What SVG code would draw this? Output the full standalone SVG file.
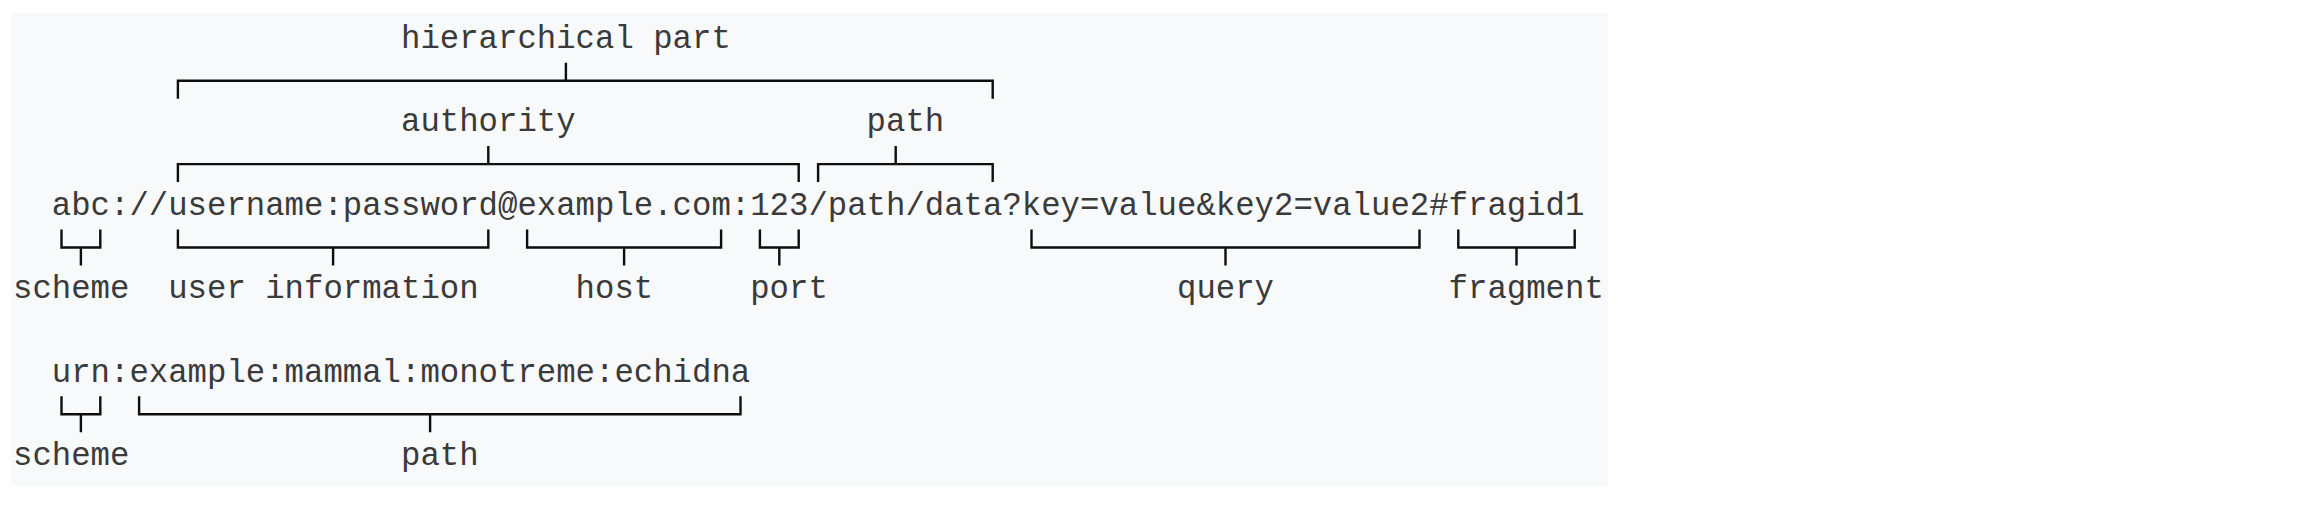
<svg xmlns="http://www.w3.org/2000/svg" width="2322" height="514" viewBox="0 0 2322 514">
  <style>
    .t { font-family: "Liberation Mono", "DejaVu Sans Mono", monospace; font-size: 32.33px; fill: #3a3a3a; white-space: pre; }
    .br { fill: none; stroke: #0d0d0d; stroke-width: 2.4; stroke-linecap: butt; stroke-linejoin: miter; }
  </style>
  <rect x="0" y="0" width="2322" height="514" fill="#ffffff"/>
  <rect id="panel" x="11" y="13" width="1597" height="473" fill="#f8f9fa"/>

  <g id="label-hierarchical-part"><text class="t" x="401" y="48">hierarchical part</text></g>
  <g id="label-authority"><text class="t" x="401" y="131.4">authority</text></g>
  <g id="label-path-1"><text class="t" x="866.6" y="131.4">path</text></g>
  <g id="uri-1"><text class="t" x="51.8" y="214.8">abc://username:password@example.com:123/path/data?key=value&amp;key2=value2#fragid1</text></g>
  <g id="label-scheme-1"><text class="t" x="13" y="298.2">scheme</text></g>
  <g id="label-user-information"><text class="t" x="168.2" y="298.2">user information</text></g>
  <g id="label-host"><text class="t" x="575.6" y="298.2">host</text></g>
  <g id="label-port"><text class="t" x="750.2" y="298.2">port</text></g>
  <g id="label-query"><text class="t" x="1177" y="298.2">query</text></g>
  <g id="label-fragment"><text class="t" x="1448.6" y="298.2">fragment</text></g>
  <g id="uri-2"><text class="t" x="51.8" y="381.6">urn:example:mammal:monotreme:echidna</text></g>
  <g id="label-scheme-2"><text class="t" x="13" y="465">scheme</text></g>
  <g id="label-path-2"><text class="t" x="401" y="465">path</text></g>

  <g id="connectors">
    <!-- hierarchical part: cols 8..50, stem 28 -->
    <path class="br" d="M177.9 98.7 V80.7 H992.7 V98.7 M565.9 80.7 V62.7"/>
    <!-- authority: cols 8..40, stem 24 -->
    <path class="br" d="M177.9 182.1 V164.1 H798.7 V182.1 M488.3 164.1 V146.1"/>
    <!-- path: cols 41..50, stem 45 -->
    <path class="br" d="M818.1 182.1 V164.1 H992.7 V182.1 M895.7 164.1 V146.1"/>
    <!-- scheme: cols 2..4, stem 3 -->
    <path class="br" d="M61.5 229.5 V247.5 H100.3 V229.5 M80.9 247.5 V265.5"/>
    <!-- user information: cols 8..24, stem 16 -->
    <path class="br" d="M177.9 229.5 V247.5 H488.3 V229.5 M333.1 247.5 V265.5"/>
    <!-- host: cols 26..36, stem 31 -->
    <path class="br" d="M527.1 229.5 V247.5 H721.1 V229.5 M624.1 247.5 V265.5"/>
    <!-- port: cols 38..40, stem 39 -->
    <path class="br" d="M759.9 229.5 V247.5 H798.7 V229.5 M779.3 247.5 V265.5"/>
    <!-- query: cols 52..72, stem 62 -->
    <path class="br" d="M1031.5 229.5 V247.5 H1419.5 V229.5 M1225.5 247.5 V265.5"/>
    <!-- fragment: cols 74..80, stem 77 -->
    <path class="br" d="M1458.3 229.5 V247.5 H1574.7 V229.5 M1516.5 247.5 V265.5"/>
    <!-- urn scheme: cols 2..4, stem 3 -->
    <path class="br" d="M61.5 396.3 V414.3 H100.3 V396.3 M80.9 414.3 V432.3"/>
    <!-- urn path: cols 6..37, stem 21 -->
    <path class="br" d="M139.1 396.3 V414.3 H740.5 V396.3 M430.1 414.3 V432.3"/>
  </g>
</svg>
